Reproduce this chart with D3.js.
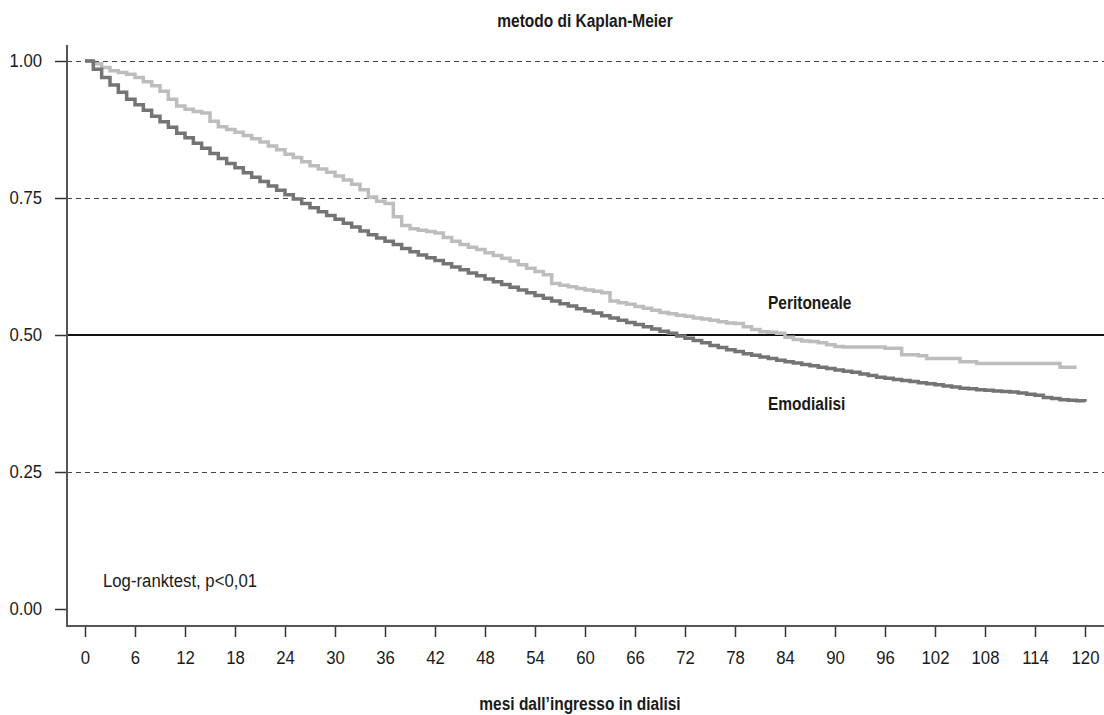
<!DOCTYPE html>
<html><head><meta charset="utf-8">
<script src="https://cdn.jsdelivr.net/npm/d3@7"></script>
<style>
html,body{margin:0;padding:0;background:#fff;}
svg{display:block;}
text{font-family:"Liberation Sans",Arial,sans-serif;fill:#1a1a1a;}
</style></head>
<body>
<svg id="chart" width="1104" height="715"></svg>
<script>
// ---- data ----
const chartTitle = "metodo di Kaplan-Meier";
const xTitle = "mesi dall\u2019ingresso in dialisi";
const note = "Log-ranktest, p<0,01";
const xTicks = [0,6,12,18,24,30,36,42,48,54,60,66,72,78,84,90,96,102,108,114,120];
const yTicks = [0,0.25,0.5,0.75,1];
const dashedLevels = [0.25,0.75,1];
const refLevel = 0.5;
const seriesNames = ["Peritoneale","Emodialisi"];
// months 0..120 (Emodialisi), 0..119 (Peritoneale)
const emodialisi = [1.000,0.985,0.970,0.956,0.943,0.930,0.920,0.910,0.899,0.889,0.879,0.868,0.860,0.850,0.841,0.831,0.822,0.813,0.805,0.796,
0.788,0.780,0.772,0.764,0.756,0.748,0.740,0.732,0.725,0.718,0.711,0.704,0.697,0.690,0.683,0.677,0.671,0.665,0.658,0.652,
0.646,0.641,0.636,0.630,0.624,0.619,0.613,0.608,0.602,0.597,0.592,0.587,0.582,0.577,0.572,0.567,0.562,0.557,0.553,0.548,
0.544,0.540,0.535,0.531,0.527,0.523,0.519,0.515,0.511,0.507,0.503,0.498,0.494,0.490,0.486,0.481,0.477,0.473,0.470,0.466,
0.463,0.460,0.457,0.454,0.451,0.449,0.446,0.444,0.441,0.439,0.436,0.434,0.432,0.429,0.426,0.423,0.421,0.419,0.417,0.415,
0.413,0.411,0.409,0.407,0.405,0.403,0.402,0.400,0.399,0.398,0.397,0.396,0.394,0.392,0.390,0.386,0.384,0.382,0.381,0.380,0.378];
const peritoneale = [1.000,0.995,0.988,0.982,0.979,0.976,0.970,0.962,0.955,0.945,0.930,0.918,0.912,0.908,0.905,0.890,0.880,0.875,0.870,0.864,
0.858,0.852,0.845,0.838,0.830,0.824,0.816,0.809,0.803,0.797,0.790,0.783,0.775,0.765,0.752,0.744,0.740,0.716,0.700,0.694,
0.691,0.689,0.686,0.678,0.671,0.665,0.660,0.656,0.650,0.645,0.640,0.635,0.628,0.622,0.616,0.610,0.594,0.591,0.588,0.585,
0.582,0.580,0.577,0.562,0.559,0.556,0.552,0.549,0.545,0.541,0.539,0.536,0.534,0.531,0.529,0.527,0.524,0.522,0.521,0.515,
0.510,0.506,0.505,0.503,0.496,0.492,0.489,0.488,0.486,0.482,0.479,0.478,0.478,0.478,0.478,0.478,0.476,0.476,0.464,0.464,
0.462,0.457,0.457,0.457,0.457,0.451,0.451,0.448,0.448,0.448,0.448,0.448,0.448,0.448,0.448,0.448,0.448,0.441,0.441,0.441];

// ---- layout ----
const svg = d3.select("#chart");
const x = d3.scaleLinear().domain([0,120]).range([85,1085]);
const y = d3.scaleLinear().domain([0,1]).range([609,61]);
const axisX0 = 67, axisRight = 1104, axisTop = 45, axisBottomY = 626;
function condense(sel, f){
  sel.each(function(){
    const w = this.getComputedTextLength();
    d3.select(this).attr("textLength", w*f).attr("lengthAdjust","spacingAndGlyphs");
  });
}
const REG = 0.93, BOLD = 0.86;

// gridlines
svg.append("g").selectAll("line").data(dashedLevels).join("line")
  .attr("x1", axisX0).attr("x2", axisRight)
  .attr("y1", d=>y(d)+0.5).attr("y2", d=>y(d)+0.5)
  .attr("stroke","#444").attr("stroke-width",1).attr("stroke-dasharray","5,4");
svg.append("line").attr("x1",axisX0).attr("x2",axisRight)
  .attr("y1",y(refLevel)).attr("y2",y(refLevel))
  .attr("stroke","#111").attr("stroke-width",2.2);

// axes
const yAxis = d3.axisLeft(y).tickValues(yTicks).tickFormat(d3.format(".2f")).tickSize(12).tickPadding(13);
const gy = svg.append("g").attr("transform",`translate(${axisX0},0)`).call(yAxis);
gy.select(".domain").remove();
gy.selectAll(".tick line").attr("stroke","#333").attr("stroke-width",1.5);
gy.selectAll(".tick text").attr("font-size",18).attr("font-family",null).attr("fill","#222").call(condense, REG);

const xAxis = d3.axisBottom(x).tickValues(xTicks).tickSize(11).tickPadding(14);
const gx = svg.append("g").attr("transform",`translate(0,${axisBottomY})`).call(xAxis);
gx.select(".domain").remove();
gx.selectAll(".tick line").attr("stroke","#333").attr("stroke-width",1.5);
gx.selectAll(".tick text").attr("font-size",18).attr("font-family",null).attr("fill","#222").call(condense, REG);

svg.append("line").attr("x1",axisX0).attr("x2",axisX0).attr("y1",axisTop).attr("y2",axisBottomY+1)
  .attr("stroke","#555").attr("stroke-width",2);
svg.append("line").attr("x1",axisX0).attr("x2",axisRight).attr("y1",axisBottomY).attr("y2",axisBottomY)
  .attr("stroke","#555").attr("stroke-width",2);

// curves
const line = d3.line().x((d,i)=>x(i)).y(d=>y(d)).curve(d3.curveStepAfter);
svg.append("path").datum(peritoneale).attr("d",line)
  .attr("fill","none").attr("stroke","#bdbdbd").attr("stroke-width",3.5);
svg.append("path").datum(emodialisi).attr("d",line)
  .attr("fill","none").attr("stroke","#747474").attr("stroke-width",3.5);

// texts
svg.append("text").attr("x",585).attr("y",27).attr("text-anchor","middle")
  .attr("font-size",18).attr("font-weight","bold").text(chartTitle).call(condense, BOLD);
svg.append("text").attr("x",580).attr("y",710).attr("text-anchor","middle")
  .attr("font-size",18).attr("font-weight","bold").text(xTitle).call(condense, BOLD);
svg.append("text").attr("x",103).attr("y",587)
  .attr("font-size",18).text(note).call(condense, REG);
svg.append("text").attr("x",768).attr("y",309)
  .attr("font-size",18).attr("font-weight","bold").text(seriesNames[0]).call(condense, BOLD);
svg.append("text").attr("x",768).attr("y",410)
  .attr("font-size",18).attr("font-weight","bold").text(seriesNames[1]).call(condense, BOLD);
</script>
</body></html>
